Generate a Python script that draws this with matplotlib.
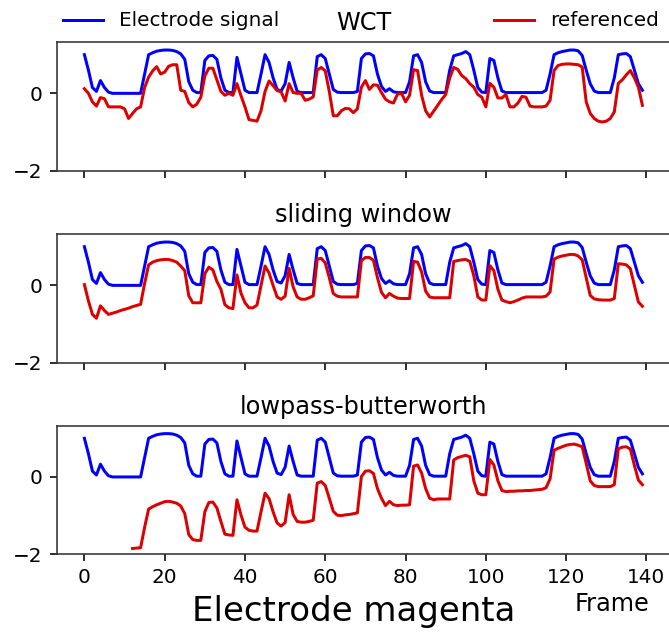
import numpy as np
import matplotlib
matplotlib.use("Agg")
import matplotlib.pyplot as plt

frames = list(range(140))

electrode = [
    1.00, 0.60, 0.15, 0.05, 0.33, 0.15, 0.03, 0.00, 0.00, 0.00,
    0.00, 0.00, 0.00, 0.00, 0.00, 0.50, 1.00, 1.05, 1.09, 1.11,
    1.12, 1.12, 1.11, 1.08, 1.02, 0.88, 0.30, 0.08, 0.02, 0.02,
    0.85, 0.97, 0.98, 0.88, 0.40, 0.08, 0.02, 0.02, 0.93, 0.50,
    0.08, 0.02, 0.02, 0.02, 0.50, 1.00, 0.80, 0.40, 0.10, 0.06,
    0.25, 0.80, 0.40, 0.05, 0.02, 0.02, 0.02, 0.02, 0.95, 1.00,
    0.90, 0.50, 0.10, 0.03, 0.02, 0.02, 0.02, 0.02, 0.05, 0.90,
    1.02, 1.03, 0.97, 0.50, 0.18, 0.05, 0.12, 0.04, 0.02, 0.02,
    0.02, 0.30, 0.97, 1.00, 0.80, 0.30, 0.06, 0.02, 0.02, 0.02,
    0.02, 0.60, 0.97, 1.00, 1.03, 1.08, 1.00, 0.60, 0.15, 0.03,
    0.02, 0.90, 0.85, 0.40, 0.06, 0.02, 0.02, 0.02, 0.02, 0.02,
    0.02, 0.02, 0.02, 0.02, 0.02, 0.08, 0.50, 1.00, 1.05, 1.08,
    1.10, 1.12, 1.12, 1.10, 0.98, 0.60, 0.25, 0.06, 0.02, 0.02,
    0.02, 0.02, 0.40, 1.00, 1.02, 1.03, 0.95, 0.60, 0.25, 0.08,
]

ref_wct = [
    0.12, 0.00, -0.22, -0.33, -0.11, -0.14, -0.35, -0.35, -0.35, -0.35,
    -0.40, -0.65, -0.52, -0.40, -0.35, 0.15, 0.42, 0.58, 0.69, 0.50,
    0.55, 0.70, 0.74, 0.74, 0.08, 0.05, -0.24, -0.35, -0.28, -0.10,
    0.45, 0.65, 0.65, 0.35, 0.05, -0.05, 0.00, -0.05, 0.25, -0.06,
    -0.35, -0.68, -0.70, -0.72, -0.45, 0.05, 0.32, 0.20, 0.07, 0.04,
    -0.20, 0.25, 0.02, 0.00, 0.00, -0.18, -0.15, -0.09, 0.60, 0.67,
    0.58, 0.05, -0.58, -0.58, -0.45, -0.39, -0.40, -0.50, -0.40, 0.16,
    0.33, 0.10, 0.22, 0.21, 0.02, -0.15, -0.22, -0.25, -0.02, 0.00,
    -0.22, -0.05, 0.61, 0.59, -0.05, -0.45, -0.61, -0.46, -0.31, -0.16,
    -0.03, 0.40, 0.67, 0.62, 0.46, 0.38, 0.25, 0.16, -0.03, -0.10,
    -0.35, 0.26, 0.16, -0.12, -0.12, -0.03, -0.35, -0.35, -0.25, -0.08,
    -0.10, -0.33, -0.35, -0.35, -0.35, -0.33, -0.18, 0.59, 0.72, 0.75,
    0.76, 0.76, 0.75, 0.74, 0.68, -0.22, -0.52, -0.65, -0.72, -0.74,
    -0.72, -0.65, -0.48, 0.26, 0.35, 0.48, 0.59, 0.40, 0.16, -0.31,
]

ref_sliding = [
    0.02, -0.40, -0.75, -0.85, -0.53, -0.65, -0.75, -0.72, -0.69, -0.65,
    -0.62, -0.59, -0.55, -0.52, -0.49, 0.05, 0.53, 0.60, 0.64, 0.66,
    0.67, 0.67, 0.64, 0.60, 0.50, 0.38, -0.27, -0.45, -0.45, -0.45,
    0.30, 0.47, 0.40, 0.10, -0.10, -0.50, -0.58, -0.60, 0.27, -0.20,
    -0.45, -0.58, -0.58, -0.51, 0.00, 0.50, 0.32, 0.00, -0.30, -0.36,
    -0.28, 0.44, -0.04, -0.30, -0.36, -0.36, -0.32, -0.27, 0.68, 0.70,
    0.58, 0.20, -0.21, -0.28, -0.30, -0.30, -0.30, -0.30, -0.30, 0.64,
    0.72, 0.72, 0.65, 0.20, -0.18, -0.32, -0.21, -0.28, -0.33, -0.34,
    -0.34, -0.34, 0.62, 0.60, 0.35, -0.15, -0.30, -0.32, -0.32, -0.32,
    -0.32, -0.32, 0.62, 0.64, 0.66, 0.67, 0.62, 0.25, -0.30, -0.38,
    -0.38, 0.51, 0.38, -0.10, -0.38, -0.42, -0.45, -0.42, -0.38, -0.33,
    -0.30, -0.30, -0.30, -0.30, -0.30, -0.28, -0.17, 0.68, 0.73, 0.76,
    0.78, 0.80, 0.80, 0.76, 0.66, 0.20, -0.26, -0.35, -0.37, -0.38,
    -0.38, -0.38, -0.34, 0.56, 0.55, 0.53, 0.43, 0.00, -0.43, -0.54,
]

nan = float("nan")
ref_butter = [
    nan, nan, nan, nan, nan, nan, nan, nan, nan, nan,
    nan, nan, -1.85, -1.84, -1.83, -1.30, -0.83, -0.77, -0.72, -0.68,
    -0.64, -0.63, -0.65, -0.68, -0.75, -0.95, -1.49, -1.62, -1.64, -1.64,
    -0.90, -0.66, -0.65, -0.80, -1.15, -1.48, -1.50, -1.51, -0.59, -0.98,
    -1.30, -1.38, -1.40, -1.40, -0.90, -0.42, -0.56, -0.90, -1.19, -1.27,
    -1.18, -0.46, -0.97, -1.15, -1.17, -1.17, -1.15, -1.12, -0.16, -0.12,
    -0.22, -0.55, -0.89, -0.99, -1.00, -0.98, -0.97, -0.95, -0.93, 0.01,
    0.15, 0.16, 0.09, -0.30, -0.55, -0.74, -0.63, -0.72, -0.74, -0.73,
    -0.73, -0.72, 0.28, 0.31, 0.10, -0.30, -0.55, -0.59, -0.57, -0.57,
    -0.57, -0.57, 0.44, 0.50, 0.53, 0.56, 0.52, -0.10, -0.42, -0.46,
    -0.46, 0.45, 0.31, -0.10, -0.35, -0.38, -0.37, -0.37, -0.36, -0.36,
    -0.35, -0.35, -0.34, -0.33, -0.32, -0.28, -0.05, 0.69, 0.74, 0.78,
    0.82, 0.84, 0.85, 0.82, 0.78, 0.35, -0.10, -0.22, -0.25, -0.25,
    -0.25, -0.25, -0.20, 0.73, 0.77, 0.78, 0.72, 0.30, -0.08, -0.20,
]

titles = ["WCT", "sliding window", "lowpass-butterworth"]
series = [ref_wct, ref_sliding, ref_butter]
xticks = [0, 20, 40, 60, 80, 100, 120, 140]
yticks = [-2, 0]

BLUE = "#0000ff"
RED = "#dd0000"

DPI = 144
fig = plt.figure(figsize=(669 / DPI, 635 / DPI), dpi=DPI)
bottoms = [0.7312, 0.4288, 0.1271]
height = 0.2022
left = 56.5 / 669
width = 613.8 / 669

for i, (b, ttl, ref) in enumerate(zip(bottoms, titles, series)):
    ax = fig.add_axes([left, b, width, height])
    l1, = ax.plot(frames, electrode, color=BLUE, lw=1.5, label="Electrode signal")
    l2, = ax.plot(frames, ref, color=RED, lw=1.5, label="referenced")
    ax.set_xlim(-6.95, 145.95)
    ax.set_ylim(-2.0, 1.32)
    ax.set_yticks(yticks)
    ax.set_xticks(xticks)
    if i < 2:
        ax.set_xticklabels([])
    ax.set_title(ttl, fontsize=12)
    for s in ax.spines.values():
        s.set_color("#333333")
    if i == 0:
        h_blue, h_red = l1, l2

fig.legend(handles=[h_blue], loc="center left", bbox_to_anchor=(55 / 669, 1 - 21 / 635),
           frameon=False, fontsize=10, borderaxespad=0)
fig.legend(handles=[h_red], loc="center left", bbox_to_anchor=(486 / 669, 1 - 21 / 635),
           frameon=False, fontsize=10, borderaxespad=0)

fig.text(612 / 669, 1 - 604 / 635, "Frame", fontsize=12, ha="center", va="center")
fig.text(354 / 669, 1 - 612 / 635, "Electrode magenta", fontsize=17, ha="center", va="center")

fig.savefig("out.png", dpi=DPI)
